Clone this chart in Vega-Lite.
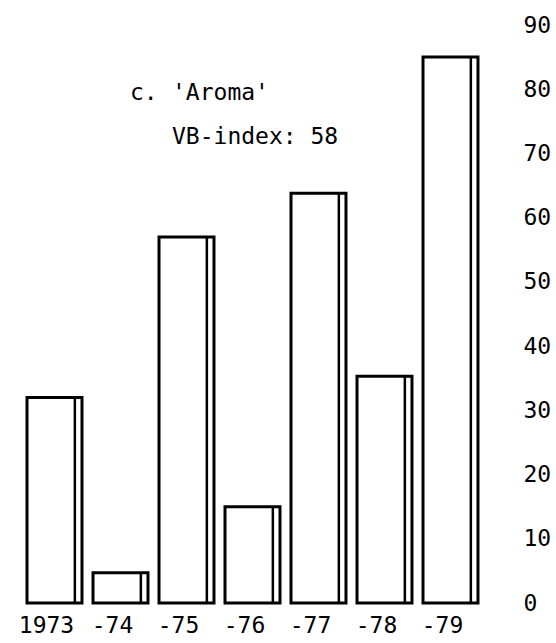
{
  "$schema": "https://vega.github.io/schema/vega-lite/v6.json",
  "width": 461,
  "height": 578,
  "autosize": {"type": "none"},
  "padding": {"left": 22, "top": 25, "right": 73, "bottom": 40},
  "background": "white",
  "config": {
    "view": {"stroke": null},
    "font": "DejaVu Sans Mono"
  },
  "datasets": {
    "bars": [
      {"year": "1973", "value": 32},
      {"year": "-74", "value": 4.7},
      {"year": "-75", "value": 57},
      {"year": "-76", "value": 15},
      {"year": "-77", "value": 63.8},
      {"year": "-78", "value": 35.3},
      {"year": "-79", "value": 85}
    ],
    "label1": [
      {"year": "-74", "value": 79.4, "text": "c."}
    ],
    "notes": [
      {"year": "-75", "value": 79.4, "text": "'Aroma'"},
      {"year": "-75", "value": 72.6, "text": "VB-index: 58"}
    ]
  },
  "layer": [
    {
      "data": {"name": "bars"},
      "mark": {"type": "bar", "fill": "white", "stroke": "black", "strokeWidth": 3, "strokeJoin": "miter"},
      "encoding": {
        "x": {
          "field": "year", "type": "ordinal", "sort": null,
          "scale": {"paddingInner": 0.167, "paddingOuter": 0.076},
          "axis": {
            "title": null, "domain": false, "ticks": false, "labelAngle": 0,
            "labelFontSize": 23, "labelColor": "black", "labelPadding": 11,
            "labelFont": "DejaVu Sans Mono", "labelOffset": -8
          }
        },
        "y": {
          "field": "value", "type": "quantitative",
          "scale": {"domain": [0, 90], "nice": false},
          "axis": {
            "orient": "right", "title": null, "domain": false, "ticks": false, "grid": false,
            "values": [0, 10, 20, 30, 40, 50, 60, 70, 80, 90],
            "labelFontSize": 23, "labelColor": "black", "labelPadding": 40,
            "labelFont": "DejaVu Sans Mono"
          }
        }
      }
    },
    {
      "data": {"name": "bars"},
      "mark": {"type": "rule", "stroke": "black", "strokeWidth": 2.5},
      "encoding": {
        "x": {"field": "year", "type": "ordinal", "sort": null, "bandPosition": 0.87},
        "y": {"field": "value", "type": "quantitative"},
        "y2": {"datum": 0}
      }
    },
    {
      "data": {"name": "label1"},
      "mark": {"type": "text", "align": "left", "baseline": "middle", "fontSize": 23, "font": "DejaVu Sans Mono", "color": "black", "dx": 37},
      "encoding": {
        "x": {"field": "year", "type": "ordinal", "sort": null, "bandPosition": 0},
        "y": {"field": "value", "type": "quantitative"},
        "text": {"field": "text"}
      }
    },
    {
      "data": {"name": "notes"},
      "mark": {"type": "text", "align": "left", "baseline": "middle", "fontSize": 23, "font": "DejaVu Sans Mono", "color": "black", "dx": 13},
      "encoding": {
        "x": {"field": "year", "type": "ordinal", "sort": null, "bandPosition": 0},
        "y": {"field": "value", "type": "quantitative"},
        "text": {"field": "text"}
      }
    }
  ]
}
